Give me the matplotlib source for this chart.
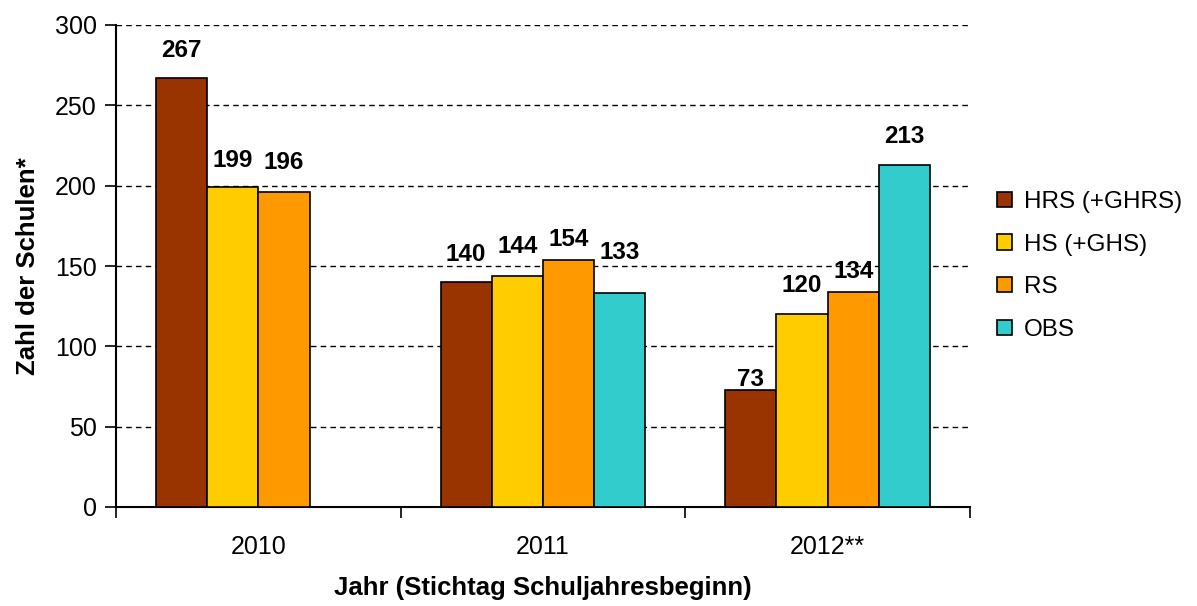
import matplotlib
matplotlib.use("Agg")
import matplotlib.pyplot as plt
import numpy as np

years = ["2010", "2011", "2012**"]
series = ["HRS (+GHRS)", "HS (+GHS)", "RS", "OBS"]
hrs = [267, 140, 73]
hs = [199, 144, 120]
rs = [196, 154, 134]
obs = [np.nan, 133, 213]
values = [hrs, hs, rs, obs]
colors = ["#993300", "#FFCC00", "#FF9900", "#33CCCC"]
# label offsets above bar tops (pixels, as placed in the original)
label_offsets = [[28, 28, 10], [27, 29, 29], [30, 20, 20], [0, 41, 28]]

plt.rcParams['font.family'] = ['Liberation Sans', 'DejaVu Sans']

fig = plt.figure(figsize=(11.97, 6.06), dpi=100)
ax = fig.add_axes([116/1197, 1-507/606, (970-116)/1197, (507-25)/606])

x = np.arange(len(years))
w = 0.18
for i, (name, vals, c) in enumerate(zip(series, values, colors)):
    pos = x + (i - 1.5) * w
    ax.bar(pos, vals, width=w, color=c, edgecolor="black", linewidth=1.2, label=name, zorder=3)
    for j, (p, v) in enumerate(zip(pos, vals)):
        if not np.isnan(v):
            ax.annotate(f"{v:.0f}", (p, v), xytext=(0, label_offsets[i][j] * 0.72),
                        textcoords="offset points", ha="center", va="center",
                        fontsize=17.5, fontweight="bold", zorder=4)

ax.set_xlim(-0.5, 2.5)
ax.set_ylim(0, 300)
ax.set_yticks(range(0, 301, 50))
ax.tick_params(axis="y", labelsize=18, length=8, width=1.2, direction="out", pad=6)
ax.set_xticks(x)
ax.set_xticklabels(years)
ax.tick_params(axis="x", labelsize=18, length=0, pad=20)
ax.set_xticks([-0.5, 0.5, 1.5, 2.5], minor=True)
ax.tick_params(axis="x", which="minor", length=8, width=1.2, direction="out")

for yv in range(50, 301, 50):
    ax.axhline(yv, color="black", linestyle=(0, (4, 3)), linewidth=1.0, zorder=1)

for s in ["top", "right"]:
    ax.spines[s].set_visible(False)
ax.spines["left"].set_linewidth(1.5)
ax.spines["bottom"].set_linewidth(1.5)

ax.set_ylabel("Zahl der Schulen*", fontsize=18.5, fontweight="bold")
ax.yaxis.set_label_coords((28 - 116) / 854, 0.5)
ax.yaxis.label.set_va("center")
ax.set_xlabel("Jahr (Stichtag Schuljahresbeginn)", fontsize=18.5, fontweight="bold")
ax.xaxis.set_label_coords(0.5, (507 - 588) / 482)
ax.xaxis.label.set_va("center")

leg = ax.legend(loc="center left", frameon=False,
                fontsize=17.5, handlelength=0.6, handleheight=0.6, handletextpad=0.5,
                labelspacing=0.85, borderaxespad=0, borderpad=0)
leg.set_bbox_to_anchor((997/1197, 1-266/606), transform=fig.transFigure)

fig.savefig("out.png", dpi=100)
